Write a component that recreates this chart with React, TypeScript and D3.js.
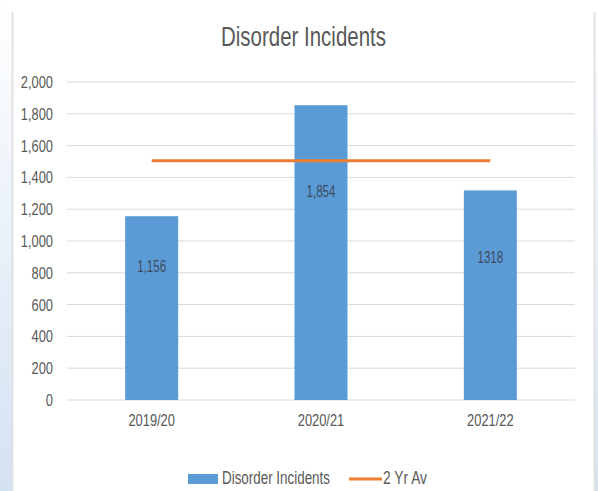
import React from "react";
import * as d3 from "d3";

const categories = ["2019/20", "2020/21", "2021/22"];
const incidents = [1156, 1854, 1318];
const labelTexts = ["1,156", "1,854", "1318"];
const twoYrAv = [1505, 1505, 1505];
const yTicks = [0, 200, 400, 600, 800, 1000, 1200, 1400, 1600, 1800, 2000];

const W = 598;
const H = 491;
const FONT = "'Liberation Sans', sans-serif";
const BAR = "#5b9bd5";
const ORANGE = "#ed7d31";
const labelOffsets = [56, 92, 73];
const SX = 0.78;

function NText(props: {
  x: number;
  y: number;
  size: number;
  anchor?: string;
  fill?: string;
  sx?: number;
  children: React.ReactNode;
}) {
  const { x, y, size, anchor = "start", fill = "#595959", sx = SX, children } = props;
  return (
    <text
      transform={`translate(${x},${y}) scale(${sx},1)`}
      textAnchor={anchor}
      fontSize={size}
      fill={fill}
    >
      {children}
    </text>
  );
}

export default function App() {
  const x = d3
    .scaleBand<string>()
    .domain(categories)
    .range([67, 575])
    .paddingInner(0.687)
    .paddingOuter(0.3435);
  const y = d3.scaleLinear().domain([0, 2000]).range([400, 82]);
  const fmt = d3.format(",");
  const cx = (c: string) => (x(c) as number) + x.bandwidth() / 2;

  const line = d3
    .line<number>()
    .x((_, i) => cx(categories[i]))
    .y((d) => y(d));

  return (
    <svg
      width={W}
      height={H}
      style={{ position: "absolute", left: 0, top: 0, display: "block" }}
      fontFamily={FONT}
    >
      <defs>
        <linearGradient id="lg" x1="0" y1="0" x2="0" y2="1">
          <stop offset="0" stopColor="#ffffff" />
          <stop offset="1" stopColor="#d3e2f3" />
        </linearGradient>
      </defs>
      <rect x={0} y={0} width={W} height={H} fill="#ffffff" />
      <rect x={0} y={0} width={12} height={H} fill="url(#lg)" />
      <rect x={595} y={0} width={3} height={H} fill="url(#lg)" />
      <line x1={12.5} x2={12.5} y1={12} y2={H} stroke="#e2e2e2" strokeWidth={2} />
      <line x1={594.5} x2={594.5} y1={12} y2={H} stroke="#e2e2e2" strokeWidth={2} />

      <text
        x={303.5}
        y={46}
        textAnchor="middle"
        fontSize={27}
        fill="#595959"
        textLength={165}
        lengthAdjust="spacingAndGlyphs"
      >
        Disorder Incidents
      </text>

      {yTicks.map((t) => (
        <g key={t}>
          <line x1={67} x2={575} y1={y(t)} y2={y(t)} stroke="#d9d9d9" strokeWidth={1} />
          <NText x={53} y={y(t) + 6} anchor="end" size={16.5}>
            {fmt(t)}
          </NText>
        </g>
      ))}

      {categories.map((c, i) => (
        <rect
          key={c}
          x={x(c)}
          y={y(incidents[i])}
          width={x.bandwidth()}
          height={y(0) - y(incidents[i])}
          fill={BAR}
        />
      ))}

      <path d={line(twoYrAv) || ""} fill="none" stroke={ORANGE} strokeWidth={3} />

      {categories.map((c, i) => (
        <NText
          key={c}
          x={cx(c)}
          y={y(incidents[i]) + labelOffsets[i]}
          anchor="middle"
          size={16}
          fill="#3b4a5c"
          sx={0.72}
        >
          {labelTexts[i]}
        </NText>
      ))}

      {categories.map((c) => (
        <NText key={c} x={cx(c)} y={426} anchor="middle" size={16.5}>
          {c}
        </NText>
      ))}

      <rect x={188} y={474} width={30} height={10} fill={BAR} />
      <text x={222} y={484} fontSize={18} fill="#595959" textLength={108} lengthAdjust="spacingAndGlyphs">
        Disorder Incidents
      </text>
      <line x1={349} x2={382} y1={479} y2={479} stroke={ORANGE} strokeWidth={3} />
      <text x={383} y={484} fontSize={18} fill="#595959" textLength={44} lengthAdjust="spacingAndGlyphs">
        2 Yr Av
      </text>
    </svg>
  );
}
